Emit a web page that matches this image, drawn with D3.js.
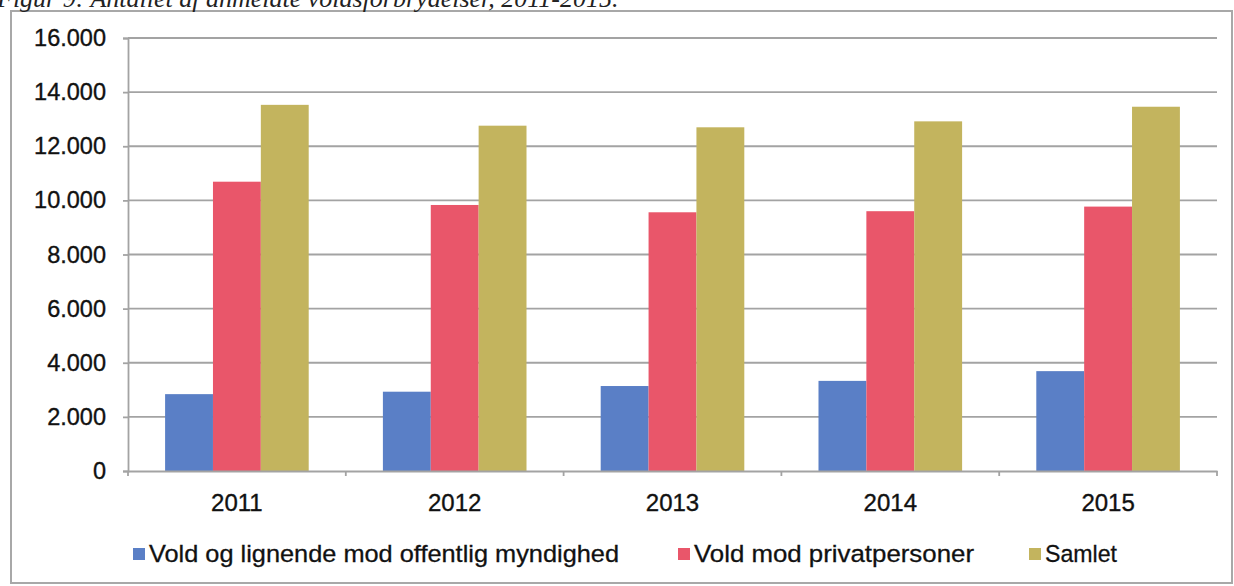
<!DOCTYPE html>
<html><head><meta charset="utf-8">
<script src="https://cdn.jsdelivr.net/npm/d3@7/dist/d3.min.js"></script>
<style>
html,body{margin:0;padding:0;background:#fff;}
svg{display:block;}
</style></head>
<body>
<svg id="c" width="1234" height="586"></svg>
<script>
const title = "Figur 9: Antallet af anmeldte voldsforbrydelser, 2011-2015.";
const years = ["2011","2012","2013","2014","2015"];
const seriesNames = ["Vold og lignende mod offentlig myndighed","Vold mod privatpersoner","Samlet"];
const offentlig = [2840, 2930, 3140, 3330, 3690];
const privat = [10690, 9830, 9560, 9600, 9770];
const samlet = [13530, 12760, 12700, 12920, 13460];
const yTicks = [0,2000,4000,6000,8000,10000,12000,14000,16000];
const colors = ["#5a7fc6","#e9566a","#c3b45e"];

(function(){
const svg = d3.select("#c");
const pL = 128, pR = 1217, pT = 38, pB = 471;
const FONT = "Liberation Sans, Arial, sans-serif";

// frame
svg.append("rect").attr("x",11).attr("y",11).attr("width",1221).attr("height",572)
  .attr("fill","none").attr("stroke","#a8a8a8").attr("stroke-width",2);

// title (clipped at top)
svg.append("text").attr("x",-3).attr("y",7)
  .attr("font-family","Liberation Serif, serif").attr("font-style","italic")
  .attr("font-size",26).attr("fill","#222").text(title);

const x = d3.scaleBand().domain(years).range([pL,pR]).padding(0);
const y = d3.scaleLinear().domain([0,16000]).range([pB,pT]);
const inner = d3.scaleBand().domain(seriesNames).range([0, x.bandwidth()]).paddingInner(0).paddingOuter(0.775);

// grid
svg.append("g").selectAll("line").data(yTicks.filter(d=>d>0)).join("line")
  .attr("x1",pL).attr("x2",pR).attr("y1",d=>y(d)).attr("y2",d=>y(d))
  .attr("stroke","#a3a3a3").attr("stroke-width",1.8);

// bars
const data = [offentlig, privat, samlet];
const g = svg.append("g");
years.forEach((yr,i)=>{
  seriesNames.forEach((s,j)=>{
    g.append("rect")
      .attr("x", x(yr)+inner(s))
      .attr("y", y(data[j][i]))
      .attr("width", inner.bandwidth())
      .attr("height", pB - y(data[j][i]))
      .attr("fill", colors[j]);
  });
});

// y axis
const yAxis = d3.axisLeft(y).tickValues(yTicks).tickSize(5).tickPadding(17)
  .tickFormat(d=>d3.format(",")(d).replace(/,/g,"."));
const ya = svg.append("g").attr("transform",`translate(${pL},0)`).call(yAxis);
ya.select(".domain").attr("stroke","#a3a3a3").attr("stroke-width",1.8);
ya.selectAll(".tick line").attr("stroke","#a3a3a3").attr("stroke-width",1.8);
ya.selectAll("text").attr("font-family",FONT)
  .attr("font-size",23.5).attr("fill","#111").attr("stroke","#111").attr("stroke-width",0.35);

// x axis
const xa = svg.append("g").attr("transform",`translate(0,${pB})`)
  .call(d3.axisBottom(x).tickSize(0).tickPadding(23));
xa.select(".domain").attr("stroke","#a3a3a3").attr("stroke-width",1.8);
xa.selectAll("text").attr("font-family",FONT)
  .attr("font-size",24).attr("fill","#111").attr("stroke","#111").attr("stroke-width",0.35);
// category boundary ticks
svg.append("g").selectAll("line").data(years.map(d=>x(d)).concat([pR])).join("line")
  .attr("x1",d=>d).attr("x2",d=>d).attr("y1",pB).attr("y2",pB+5)
  .attr("stroke","#a3a3a3").attr("stroke-width",1.8);

// legend
const legX = [133, 678, 1029];
const legLen = [470, 280, 72];
const lg = svg.append("g");
seriesNames.forEach((s,j)=>{
  lg.append("rect").attr("x",legX[j]).attr("y",548).attr("width",12).attr("height",12).attr("fill",colors[j]);
  lg.append("text").attr("x",legX[j]+16).attr("y",562)
    .attr("font-family",FONT).attr("font-size",24.5).attr("fill","#111")
    .attr("stroke","#111").attr("stroke-width",0.3)
    .attr("textLength",legLen[j]).attr("lengthAdjust","spacingAndGlyphs").text(s);
});
})();
</script>
</body></html>
